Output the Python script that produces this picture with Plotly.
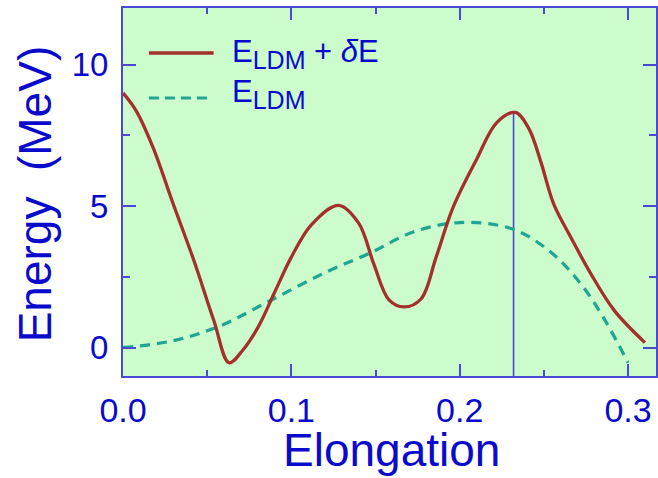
import plotly.graph_objects as go

# Data
elong_total = [0.000, 0.008, 0.018, 0.030, 0.042, 0.054, 0.063, 0.071, 0.080, 0.090, 0.100,
               0.112, 0.128, 0.140, 0.149, 0.158, 0.167, 0.177, 0.186, 0.196, 0.210, 0.222,
               0.233, 0.241, 0.248, 0.256, 0.266, 0.278, 0.292, 0.310]
energy_total = [9.00, 8.35, 7.05, 5.05, 3.1, 0.95, -0.53, -0.1, 0.7, 1.95, 3.2,
                4.35, 5.03, 4.4, 2.95, 1.69, 1.44, 1.72, 3.2, 4.95, 6.65, 7.95,
                8.31, 7.75, 6.6, 5.05, 3.9, 2.6, 1.3, 0.18]

elong_ldm = [0.0, 0.03, 0.057, 0.087, 0.12, 0.148, 0.172, 0.2, 0.231, 0.254, 0.272, 0.286, 0.3]
energy_ldm = [0.0, 0.25, 0.75, 1.65, 2.65, 3.38, 4.08, 4.42, 4.2, 3.38, 2.25, 1.0, -0.53]

barrier_x = 0.232
barrier_E = 8.31

x_range = [0.0, 0.3166]
y_range = [-1.0, 12.0]
x_ticks = [0.0, 0.1, 0.2, 0.3]
x_ticklabels = ["0.0", "0.1", "0.2", "0.3"]
y_ticks = [0, 5, 10]
y_ticklabels = ["0", "5", "10"]

RED = "#a3302a"
TEAL = "#1fa593"
AXIS = "#4a4ad6"
TXT = "#0a0acc"
BG = "#ccfccc"
FONT = "Liberation Sans, Arial, sans-serif"

fig = go.Figure()
fig.add_trace(go.Scatter(x=[barrier_x, barrier_x], y=[y_range[0], barrier_E], mode="lines",
                         line=dict(color=AXIS, width=1.6), showlegend=False, hoverinfo="skip"))
fig.add_trace(go.Scatter(x=elong_ldm, y=energy_ldm, mode="lines",
                         line=dict(color=TEAL, width=3.2, dash="10px,7px", shape="spline", smoothing=1.0),
                         showlegend=False))
fig.add_trace(go.Scatter(x=elong_total, y=energy_total, mode="lines",
                         line=dict(color=RED, width=3.3, shape="spline", smoothing=1.0),
                         showlegend=False))

W, H = 658, 478
L, R, T, B = 123, 0, 8, 102
pw, ph = W - L - R, H - T - B

def px(x):
    return (x - L) / pw

def py(y):
    return (H - B - y) / ph

# legend samples
fig.add_shape(type="line", xref="paper", yref="paper", x0=px(149), x1=px(214), y0=py(53), y1=py(53),
              line=dict(color=RED, width=3.3))
fig.add_shape(type="line", xref="paper", yref="paper", x0=px(149), x1=px(208), y0=py(98), y1=py(98),
              line=dict(color=TEAL, width=3.2, dash="10px,6px"))
SUB = '<sub><span style="font-size:25px">LDM</span></sub>'
fig.add_annotation(xref="paper", yref="paper", x=px(230), y=py(54), xanchor="left", yanchor="middle",
                   text="E" + SUB + " + <i>δ</i>E", showarrow=False, font=dict(size=31, color=TXT, family=FONT))
fig.add_annotation(xref="paper", yref="paper", x=px(230), y=py(94), xanchor="left", yanchor="middle",
                   text="E" + SUB, showarrow=False, font=dict(size=31, color=TXT, family=FONT))

# axis titles
fig.add_annotation(xref="paper", yref="paper", x=px(393), y=py(450), xanchor="center", yanchor="middle",
                   text="Elongation", showarrow=False, font=dict(size=46, color=TXT, family=FONT))
fig.add_annotation(xref="paper", yref="paper", x=px(35), y=py(194), xanchor="center", yanchor="middle",
                   text="Energy  (MeV)", textangle=-90, showarrow=False,
                   font=dict(size=46, color=TXT, family=FONT))

fig.update_layout(
    width=W, height=H, margin=dict(l=L, r=R, t=T, b=B),
    paper_bgcolor="white", plot_bgcolor=BG,
    font=dict(family=FONT, color=TXT),
    showlegend=False,
)
fig.update_xaxes(range=x_range, tickvals=x_ticks, ticktext=x_ticklabels,
                 showgrid=False, zeroline=False, showline=True, linecolor=AXIS, linewidth=2,
                 mirror="ticks", ticks="inside", ticklen=12, tickwidth=1.5, tickcolor=AXIS,
                 tickfont=dict(size=34, color=TXT, family=FONT), ticklabelstandoff=3,
                 minor=dict(tickvals=[0.05, 0.15, 0.25], ticks="inside", ticklen=6, tickwidth=1.5,
                            tickcolor=AXIS, showgrid=False))
fig.update_yaxes(range=y_range, tickvals=y_ticks, ticktext=y_ticklabels,
                 showgrid=False, zeroline=False, showline=True, linecolor=AXIS, linewidth=2,
                 mirror="ticks", ticks="inside", ticklen=13, tickwidth=1.5, tickcolor=AXIS,
                 tickfont=dict(size=33, color=TXT, family=FONT), ticklabelstandoff=6,
                 minor=dict(tickvals=[2.5, 7.5], ticks="inside", ticklen=7, tickwidth=1.5,
                            tickcolor=AXIS, showgrid=False))

fig.write_html("out.html")
